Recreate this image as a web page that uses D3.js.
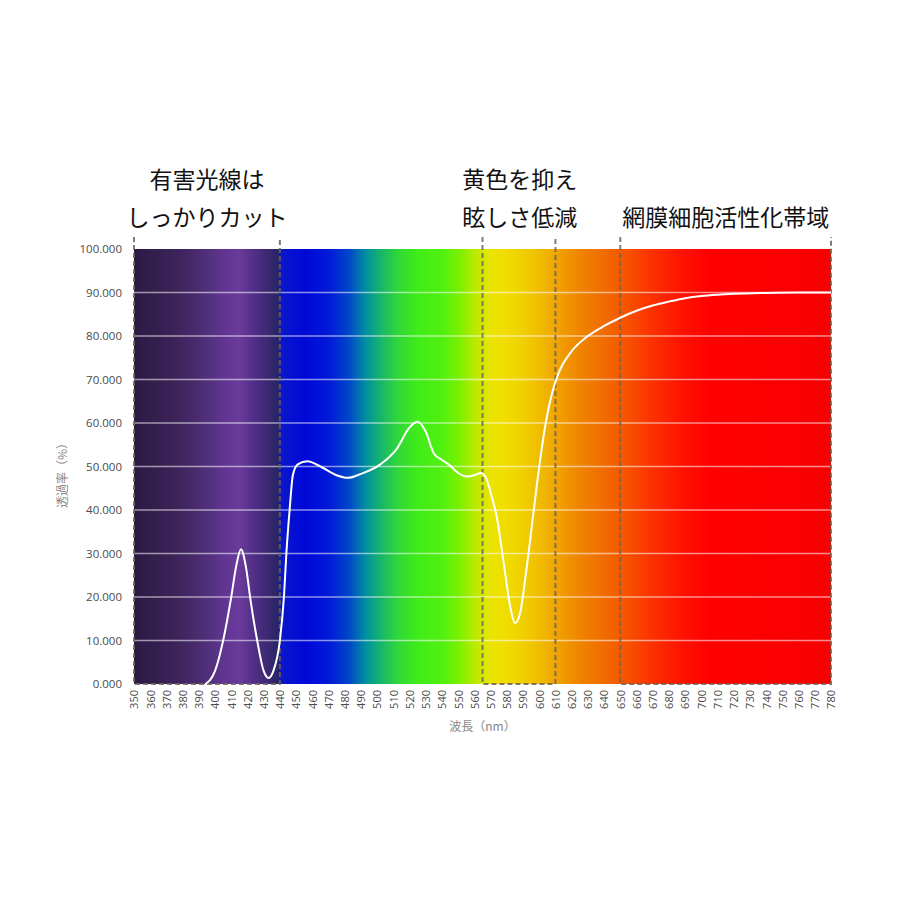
<!DOCTYPE html>
<html>
<head>
<meta charset="utf-8">
<script src="https://cdn.jsdelivr.net/npm/d3@7/dist/d3.min.js"></script>
<style>
  html, body { margin: 0; padding: 0; background: #fff; }
  svg { display: block; }
</style>
</head>
<body>
<svg id="chart" width="900" height="900"></svg>
<script>
// ---- data ----
const wavelengths = [394,400,405,410,413,416,419,422,426,430,433,436,440,442.5,444,446,448,451,457,465,475,482,490,502,512,520,525,530,535,540,545,550,555,560,564,567,570,574,578,582,585,588,592,596,600,604,608,612,620,630,640,650,660,670,680,690,700,710,720,740,760,780];
const transmittance = [0,3,10,20,27,31,27,19,10,3,1.4,3,10,20,30,40,48,50.5,51.2,50,48,47.4,48.3,50.5,54,59,60.3,58,53,51.5,50.2,48.5,47.7,48,48.5,47.5,44,38,28,18,14,16,26,38,50,60,67,71.5,76.5,80,82.3,84.2,85.8,87,87.9,88.7,89.2,89.5,89.7,89.9,90,90];
const xTicks = d3.range(350, 781, 10);
const yTicks = [0,10,20,30,40,50,60,70,80,90,100];
const bandBounds = [[350,440],[565,610],[650,780]];
const annotations = [
  {nm: 395, lines: ["有害光線は", "しっかりカット"]},
  {nm: 588, lines: ["黄色を抑え", "眩しさ低減"]},
  {nm: 715, lines: ["", "網膜細胞活性化帯域"]}
];
const spectrumNm =    [350,365,380,395,405,415,425,433,439.5,440,455,470,483,493,503,513,525,540,550,560,570,580,592,602,612,625,640,655,670,690,705,780];
const spectrumColor = ["#2b1a45","#34204f","#40245f","#50307a","#5f3590","#6a3a9c","#4f2d85","#3a2870","#272466","#0a18c8","#0008d8","#0018d8","#0048c8","#0090a0","#18b868","#30d838","#40ec18","#50f010","#78f000","#b8ea00","#ecE400","#f0dc00","#f0cc00","#f0b800","#f0a000","#f08400","#f06c00","#f85000","#fc3000","#ff1000","#ff0000","#f80000"];

// ---- layout ----
const svg = d3.select("#chart");
const x = d3.scaleLinear().domain([350, 780]).range([134, 831]);
const y = d3.scaleLinear().domain([0, 100]).range([684, 249]);

const defs = svg.append("defs");
const grad = defs.append("linearGradient").attr("id", "spec")
  .attr("gradientUnits", "userSpaceOnUse")
  .attr("x1", x(350)).attr("x2", x(780)).attr("y1", 0).attr("y2", 0);
spectrumNm.forEach((nm, i) => {
  grad.append("stop").attr("offset", (nm - 350) / 430).attr("stop-color", spectrumColor[i]);
});

svg.append("rect")
  .attr("x", x(350)).attr("y", y(100))
  .attr("width", x(780) - x(350)).attr("height", y(0) - y(100))
  .attr("fill", "url(#spec)");

// gridlines
svg.append("g").selectAll("line").data(yTicks.filter(d => d > 0 && d < 100)).join("line")
  .attr("x1", x(350)).attr("x2", x(780))
  .attr("y1", d => y(d)).attr("y2", d => y(d))
  .attr("stroke", "#ffffff").attr("stroke-opacity", 0.55).attr("stroke-width", 1.5);

// y axis labels
const yAxis = d3.axisLeft(y).tickValues(yTicks).tickFormat(d3.format(".3f")).tickSize(0).tickPadding(12);
const gy = svg.append("g").attr("transform", `translate(${x(350)},0)`).call(yAxis);
gy.select(".domain").remove();
gy.selectAll("text").attr("font-family", "'Open Sans', 'Noto Sans', sans-serif")
  .attr("font-size", 11.5).attr("fill", "#4a4a4a");

// x axis labels
const xAxis = d3.axisBottom(x).tickValues(xTicks).tickFormat(d3.format("d")).tickSize(0).tickPadding(0);
const gx = svg.append("g").attr("transform", `translate(0,${y(0)})`).call(xAxis);
gx.select(".domain").remove();
gx.selectAll("text")
  .attr("font-family", "'Open Sans', 'Noto Sans', sans-serif")
  .attr("font-size", 11).attr("fill", "#4a4a4a")
  .attr("transform", "rotate(-90)")
  .attr("text-anchor", "end")
  .attr("dy", "0.35em").attr("x", -6).attr("y", 0);

// axis titles
svg.append("text")
  .attr("transform", `translate(67,${(y(0)+y(100))/2 + 6}) rotate(-90)`)
  .attr("text-anchor", "middle")
  .attr("font-family", "'Noto Sans CJK JP', sans-serif")
  .attr("font-size", 12).attr("fill", "#888")
  .text("透過率（%）");
svg.append("text")
  .attr("x", (x(350)+x(780))/2).attr("y", 731)
  .attr("text-anchor", "middle")
  .attr("font-family", "'Noto Sans CJK JP', sans-serif")
  .attr("font-size", 12).attr("fill", "#888")
  .text("波長（nm）");

// dashed band boxes
const dashG = svg.append("g").attr("fill", "none");
bandBounds.forEach(([a, b]) => {
  dashG.append("path")
    .attr("d", `M${x(a)},237 L${x(a)},${y(0)} L${x(b)},${y(0)} L${x(b)},237`)
    .attr("stroke", "#6e6455").attr("stroke-width", 2).attr("stroke-dasharray", "5,3").attr("stroke-opacity", 0.85);
});

// curve
const pts = wavelengths.map((w, i) => [w, transmittance[i]]);
svg.append("path")
  .datum(pts)
  .attr("fill", "none")
  .attr("stroke", "#ffffff")
  .attr("stroke-width", 2)
  .attr("d", d3.line().x(d => x(d[0])).y(d => y(d[1])).curve(d3.curveMonotoneX));

// annotations
const annG = svg.append("g")
  .attr("font-family", "'Noto Sans CJK JP', sans-serif")
  .attr("font-size", 23).attr("fill", "#111").attr("text-anchor", "middle");
annotations.forEach(a => {
  a.lines.forEach((t, i) => {
    if (!t) return;
    annG.append("text").attr("x", x(a.nm)).attr("y", 188 + i * 38).text(t);
  });
});
</script>
</body>
</html>
